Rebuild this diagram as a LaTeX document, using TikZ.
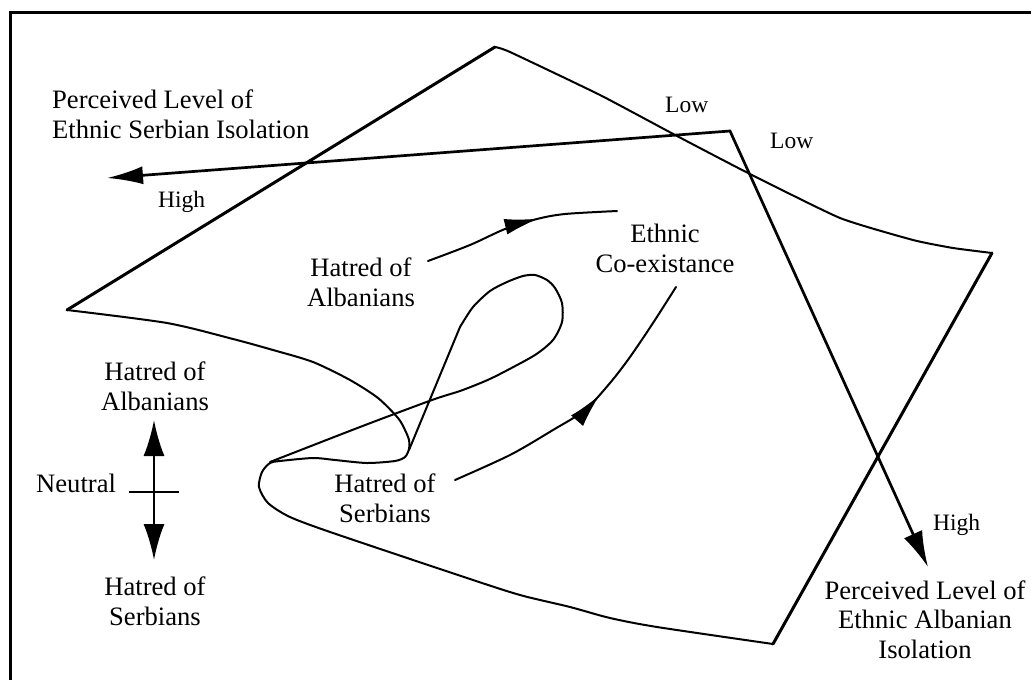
\documentclass[tikz,border=0pt]{standalone}
\usepackage{fontspec}
\setmainfont{Liberation Serif}
\usetikzlibrary{arrows.meta,decorations.markings}

\begin{document}
\begin{tikzpicture}[x=1pt,y=-1pt,
  frame/.style={line width=2.7pt, line join=miter},
  edge/.style={line width=3pt, line cap=round},
  fold/.style={line width=2pt, line join=round, line cap=round},
  axis/.style={line width=2.7pt, line join=miter,
    {Latex[length=36pt,width=18pt]}-{Latex[length=36pt,width=20pt]}},
  flow/.style={line width=2pt, line cap=round, postaction={decorate},
    decoration={markings, mark=at position #1 with {\arrow{Latex[length=34pt,width=16pt]}}}},
  label/.style={font=\fontsize{26.6}{29.5}\selectfont, align=center, inner sep=0pt, anchor=base},
  small/.style={font=\fontsize{23.5}{26}\selectfont, inner sep=0pt, anchor=base west},
]
\useasboundingbox (0,0) rectangle (1031,680);

% frame (only its top and left sides fall on the page)
\draw[frame] (10.3,700) -- (10.3,12.3) -- (1050,12.3);

% corners of the surface
\coordinate (L) at (67,310);
\coordinate (T) at (495,47);
\coordinate (R) at (992,253);
\coordinate (B) at (773,644);
\coordinate (tip) at (270,462);
\coordinate (cusp) at (409,450);

% straight edges of the surface
\draw[edge] (L) -- (T);
\draw[edge] (R) -- (B);

% far edge
\draw[fold] plot[smooth, tension=0.3] coordinates {(495,47) (510,52) (600,95) (677,136)
  (748,173) (840,218) (913,240) (953,248) (992,253)};

% near edge, folded under at the tip and running back to the left corner
\draw[fold] plot[smooth, tension=0.45] coordinates {(773,644) (657,627) (610,618) (570,607)
  (520,595) (467,578) (333,533) (290,517) (268,503) (259,487) (262,472) (270,463)
  (280,461) (313,458) (335,460) (367,463) (395,461) (405,457) (409,449) (409,440)
  (405,430) (398,418) (378,398) (350,380) (313,362) (273,350) (233,339) (167,323) (67,310)};

% fold line with its loop
\draw[fold] plot[smooth, tension=0.45] coordinates {(270,462) (360,427) (432,400) (460,391)
  (483,382) (500,374) (535,355) (553,340) (562,322) (562,303) (555,288) (547,280)
  (535,275) (523,276) (507,282) (490,291) (473,307) (460,327)} -- (cusp);

% isolation axes
\coordinate (corner) at (730,131);
\coordinate (sHighEnd) at (107,178);
\coordinate (aHighEnd) at (928,567);
\draw[axis] (sHighEnd) -- (corner) -- (aHighEnd);

% neutral scale
\coordinate (up) at (154,420);
\coordinate (down) at (154,560);
\draw[line width=2.3pt, {Latex[length=36pt,width=21pt]}-{Latex[length=36pt,width=21pt]}] (up) -- (down);
\draw[line width=2.3pt] (129,492) -- (179,492);

% flows towards co-existence
\draw[flow=0.6] plot[smooth, tension=0.5] coordinates {(428,261) (470,245) (505,229)
  (537,219) (565,214) (617,211)};
\draw[flow=0.56] plot[smooth, tension=0.5] coordinates {(455,480) (510,455) (553,430)
  (585,410) (610,383) (630,357) (653,323) (676,287)};

% labels (multi-line nodes sit on the baseline of their last line)
\node[label, anchor=base west, align=left] (sIso) at (52,138) {Perceived Level of\\Ethnic Serbian Isolation};
\node[small] (sHigh) at (158,207) {High};
\node[small] (lowA) at (665,112) {Low};
\node[small] (lowB) at (770,148) {Low};
\node[small] (aHigh) at (933,530) {High};
\node[label] (aIso) at (925,658) {Perceived Level of\\Ethnic Albanian\\Isolation};
\node[label] (hAmid) at (361,306) {Hatred of\\Albanians};
\node[label] (eco) at (665,272) {Ethnic\\Co-existance};
\node[label] (hSmid) at (385,522) {Hatred of\\Serbians};
\node[label] (hAleft) at (155,410) {Hatred of\\Albanians};
\node[small, font=\fontsize{26.6}{29.5}\selectfont] (neutral) at (36,492) {Neutral};
\node[label] (hSleft) at (155,625) {Hatred of\\Serbians};
\end{tikzpicture}
\end{document}
